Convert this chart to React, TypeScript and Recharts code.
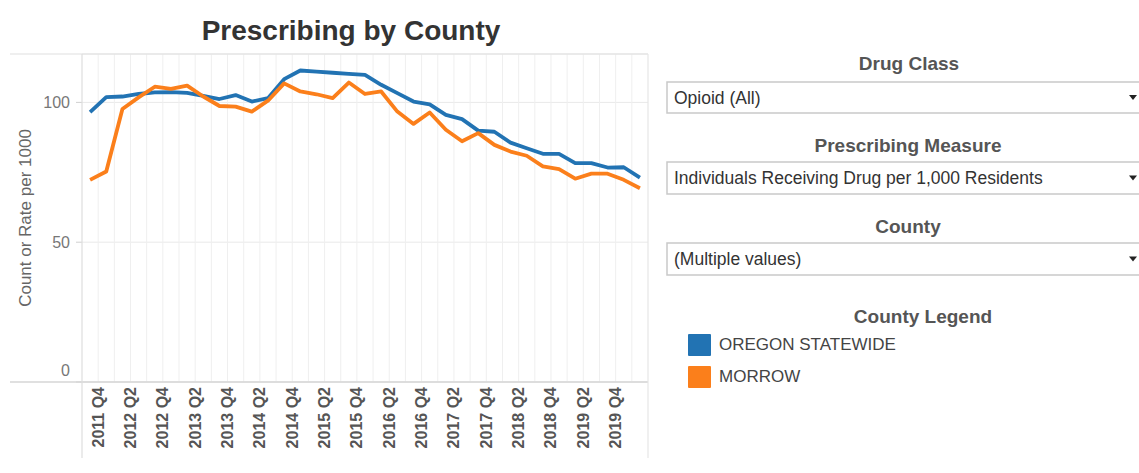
import React from 'react';
import { LineChart, Line, XAxis, YAxis, CartesianGrid, Legend } from 'recharts';

const quarters = [
  '2011 Q4', '2012 Q1', '2012 Q2', '2012 Q3', '2012 Q4', '2013 Q1', '2013 Q2', '2013 Q3', '2013 Q4',
  '2014 Q1', '2014 Q2', '2014 Q3', '2014 Q4', '2015 Q1', '2015 Q2', '2015 Q3', '2015 Q4',
  '2016 Q1', '2016 Q2', '2016 Q3', '2016 Q4', '2017 Q1', '2017 Q2', '2017 Q3', '2017 Q4',
  '2018 Q1', '2018 Q2', '2018 Q3', '2018 Q4', '2019 Q1', '2019 Q2', '2019 Q3', '2019 Q4',
  '2020 Q1', '2020 Q2',
];

const oregonStatewide = [
  96.5, 101.9, 102.1, 103.0, 103.6, 103.7, 103.4, 102.3, 101.2, 102.6, 100.3, 101.5,
  108.3, 111.4, 111.0, 110.6, 110.2, 109.8, 106.3, 103.3, 100.3, 99.3, 95.5, 94.0,
  89.9, 89.5, 85.6, 83.6, 81.6, 81.6, 78.3, 78.3, 76.7, 76.8, 73.1,
];

const morrow = [
  72.3, 75.3, 97.6, 101.8, 105.6, 104.8, 106.0, 102.1, 98.7, 98.5, 96.7, 100.6,
  106.8, 103.9, 102.9, 101.5, 107.1, 103.0, 103.9, 96.7, 92.3, 96.4, 90.2, 86.1,
  89.0, 84.8, 82.4, 80.9, 77.1, 76.1, 72.7, 74.5, 74.5, 72.3, 69.3,
];

const tickLabels = [
  '2011 Q4', '2012 Q2', '2012 Q4', '2013 Q2', '2013 Q4', '2014 Q2', '2014 Q4', '2015 Q2',
  '2015 Q4', '2016 Q2', '2016 Q4', '2017 Q2', '2017 Q4', '2018 Q2', '2018 Q4', '2019 Q2', '2019 Q4',
];

const yTicks = [0, 50, 100];

const seriesNames = ['OREGON STATEWIDE', 'MORROW'];
const seriesColors = ['#2273b3', '#fb7f1b'];

const data = quarters.map((q, i) => ({
  quarter: q,
  oregon: oregonStatewide[i],
  morrow: morrow[i],
}));

const FONT = '"Liberation Sans", Arial, sans-serif';

const XTick = (props: any) => {
  const { x, y, payload } = props;
  if (!tickLabels.includes(payload.value)) return null;
  const tx = x + 8;
  const ty = y;
  return (
    <text
      x={tx}
      y={ty}
      transform={`rotate(-90 ${tx} ${ty})`}
      textAnchor="end"
      dominantBaseline="central"
      fontFamily={FONT}
      fontSize={16}
      fontWeight="bold"
      fill="#555"
    >
      {payload.value}
    </text>
  );
};

const YTick = (props: any) => {
  const { x, y, payload } = props;
  const ty = payload.value === 0 ? y - 12 : y;
  return (
    <text x={x} y={ty} textAnchor="end" dominantBaseline="central" fontFamily={FONT} fontSize={16} fill="#777">
      {payload.value}
    </text>
  );
};

const renderLegend = (props: any) => {
  const items = [...(props.payload || [])].sort(
    (a: any, b: any) => seriesNames.indexOf(a.value) - seriesNames.indexOf(b.value)
  );
  return (
    <div style={{ position: 'relative', width: 479, height: 100, fontFamily: FONT }}>
      <div
        style={{
          position: 'absolute', left: 0, top: 6.6, width: 526, textAlign: 'center',
          fontSize: 19, lineHeight: '19px', fontWeight: 'bold', color: '#555', whiteSpace: 'nowrap',
        }}
      >
        County Legend
      </div>
      {items.map((p: any, i: number) => (
        <div
          key={p.value}
          style={{
            position: 'absolute', left: 28, top: 34 + i * 32, height: 22,
            display: 'flex', alignItems: 'center', whiteSpace: 'nowrap',
          }}
        >
          <div style={{ width: 23, height: 22, background: p.color, borderRadius: 1 }} />
          <span style={{ marginLeft: 8, fontSize: 17, color: '#444' }}>{p.value}</span>
        </div>
      ))}
    </div>
  );
};

const Dropdown = ({ y, h, text }: { y: number; h: number; text: string }) => (
  <g>
    <rect x={667} y={y} width={490} height={h} fill="#fff" stroke="#c9c9c9" strokeWidth={1.5} />
    <text x={674} y={y + h / 2} dominantBaseline="central" fontFamily={FONT} fontSize={17.5} fill="#333">
      {text}
    </text>
    <polygon
      points={`${1129},${y + h / 2 - 2.5} ${1137},${y + h / 2 - 2.5} ${1133},${y + h / 2 + 2.5}`}
      fill="#222"
    />
  </g>
);

export default function App() {
  const n = quarters.length;
  return (
    <div style={{ position: 'absolute', left: 0, top: 0, width: 1139, height: 473, background: '#fff', overflow: 'hidden', fontFamily: FONT }}>
      <LineChart width={1139} height={473} data={data} margin={{ top: 54, right: 491, bottom: 11, left: 0 }}>
        <CartesianGrid vertical={false} stroke="#e9e9e9" strokeWidth={1} />
        <CartesianGrid
          horizontal={false}
          stroke="#efefef"
          strokeWidth={1}
          verticalCoordinatesGenerator={(args: any) => {
            const off = args.offset;
            return Array.from({ length: n - 1 }, (_, i) => off.left + ((i + 1) * off.width) / n);
          }}
        />
        <XAxis
          dataKey="quarter"
          scale="band"
          interval={0}
          height={80}
          axisLine={false}
          tickLine={false}
          tickSize={0}
          tickMargin={5}
          tick={<XTick />}
        />
        <YAxis
          width={82}
          domain={[0, 117.3]}
          ticks={yTicks}
          axisLine={false}
          tickLine={{ stroke: '#d0d0d0' }}
          tickSize={6}
          tickMargin={6}
          tick={<YTick />}
          label={{
            value: 'Count or Rate per 1000',
            angle: -90,
            position: 'insideLeft',
            offset: 25,
            style: { textAnchor: 'middle', fontFamily: FONT, fontSize: 17, fill: '#666' },
          }}
        />
        <Legend
          layout="horizontal"
          verticalAlign="middle"
          align="center"
          content={renderLegend}
          wrapperStyle={{ position: 'absolute', left: 660, top: 300, width: 479, height: 100 }}
        />
        <Line
          type="linear"
          dataKey="oregon"
          name={seriesNames[0]}
          stroke={seriesColors[0]}
          strokeWidth={3.8}
          strokeLinejoin="round"
          dot={false}
          activeDot={false}
          isAnimationActive={false}
        />
        <Line
          type="linear"
          dataKey="morrow"
          name={seriesNames[1]}
          stroke={seriesColors[1]}
          strokeWidth={3.8}
          strokeLinejoin="round"
          dot={false}
          activeDot={false}
          isAnimationActive={false}
        />
      </LineChart>
      <svg
        width={1139}
        height={473}
        style={{ position: 'absolute', left: 0, top: 0, pointerEvents: 'none' }}
      >
        <line x1={10} y1={54} x2={648} y2={54} stroke="#e0e0e0" strokeWidth={1.2} />
        <line x1={10} y1={382} x2={648} y2={382} stroke="#d6d6d6" strokeWidth={1.5} />
        <line x1={82} y1={54} x2={82} y2={458} stroke="#dedede" strokeWidth={1.2} />
        <line x1={648} y1={54} x2={648} y2={458} stroke="#e6e6e6" strokeWidth={1.2} />
        <text x={351} y={40} textAnchor="middle" fontFamily={FONT} fontSize={28} fontWeight="bold" fill="#333">
          Prescribing by County
        </text>
        <text x={909} y={70} textAnchor="middle" fontFamily={FONT} fontSize={19} fontWeight="bold" fill="#555">
          Drug Class
        </text>
        <Dropdown y={82} h={31} text="Opioid (All)" />
        <text x={908} y={152} textAnchor="middle" fontFamily={FONT} fontSize={19} fontWeight="bold" fill="#555">
          Prescribing Measure
        </text>
        <Dropdown y={162} h={32} text="Individuals Receiving Drug per 1,000 Residents" />
        <text x={908} y={233} textAnchor="middle" fontFamily={FONT} fontSize={19} fontWeight="bold" fill="#555">
          County
        </text>
        <Dropdown y={243} h={32} text="(Multiple values)" />
      </svg>
    </div>
  );
}
